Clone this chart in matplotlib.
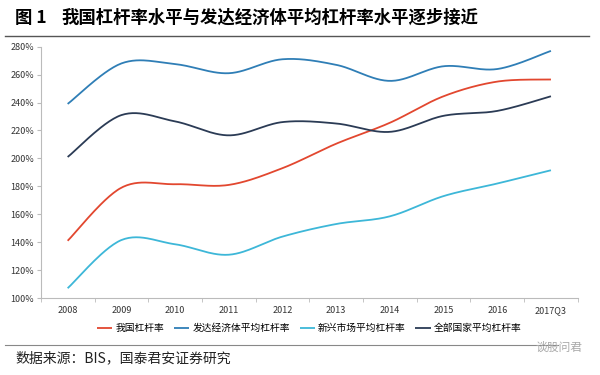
import numpy as np
import matplotlib.pyplot as plt
from matplotlib.ticker import FixedLocator

plt.rcParams['font.family'] = ['Noto Sans CJK SC', 'DejaVu Sans']

years = ['2008', '2009', '2010', '2011', '2012', '2013', '2014', '2015', '2016', '2017Q3']
china = [141, 179, 181.5, 181, 193, 210.5, 225.5, 244.5, 255, 256.5]
developed = [239, 268, 267.5, 261, 271, 267, 255.5, 266, 264, 277]
emerging = [107, 141.5, 138.5, 131, 144, 153, 158.5, 173, 182, 191.5]
all_countries = [201, 231, 226.5, 216.5, 226, 225, 219, 230.5, 234, 244.5]

names = ['我国杠杆率', '发达经济体平均杠杆率', '新兴市场平均杠杆率', '全部国家平均杠杆率']
colors = ['#E2472F', '#2F7EB6', '#3DB7D8', '#2B3B55']
series = [china, developed, emerging, all_countries]


def smooth(xs, ys, n=30):
    # Excel-style smoothed line: Catmull-Rom segments drawn as cubic Beziers
    xs = np.asarray(xs, float)
    ys = np.asarray(ys, float)
    px, py = [], []
    for i in range(len(xs) - 1):
        i0, i3 = max(i - 1, 0), min(i + 2, len(xs) - 1)
        p0 = np.array([xs[i], ys[i]])
        p3 = np.array([xs[i + 1], ys[i + 1]])
        c1 = p0 + (p3 - np.array([xs[i0], ys[i0]])) / 6
        c2 = p3 - (np.array([xs[i3], ys[i3]]) - p0) / 6
        t = np.linspace(0, 1, n)[:, None]
        pts = ((1 - t) ** 3) * p0 + 3 * ((1 - t) ** 2) * t * c1 + 3 * (1 - t) * t ** 2 * c2 + t ** 3 * p3
        px.extend(pts[:, 0])
        py.extend(pts[:, 1])
    return px, py


fig = plt.figure(figsize=(6, 3.75), dpi=100)
ax = fig.add_axes([0.068, 0.2053, 0.895, 0.6702])

x = np.arange(len(years))
for vals, name, c in zip(series, names, colors):
    sx, sy = smooth(x, vals)
    ax.plot(sx, sy, color=c, lw=1.3, label=name, solid_capstyle='butt')

ax.set_xlim(-0.5, len(years) - 0.5)
ax.set_ylim(100, 280)
ax.set_yticks(np.arange(100, 281, 20))
ax.set_yticklabels([f'{v}%' for v in range(100, 281, 20)])
ax.set_xticks(x)
ax.set_xticklabels(years)
ax.xaxis.set_minor_locator(FixedLocator(np.arange(-0.5, len(years), 1)))
ax.tick_params(axis='x', which='major', length=0, labelsize=6.5, colors='#333333', pad=6)
ax.tick_params(axis='x', which='minor', length=3, color='#BBBBBB')
ax.tick_params(axis='y', length=3, color='#BBBBBB', labelsize=6.5, labelcolor='#333333', pad=2)
for s in ['top', 'right']:
    ax.spines[s].set_visible(False)
for s in ['left', 'bottom']:
    ax.spines[s].set_color('#BBBBBB')
    ax.spines[s].set_linewidth(0.8)

ax.legend(loc='center', bbox_to_anchor=(0.5, -0.12), ncol=4, frameon=False,
          fontsize=7, handlelength=1.6, handletextpad=0.3, columnspacing=1.0)

# title and source
fig.text(0.025, 0.952, '图 1', fontsize=12.5, fontweight='bold', va='center')
fig.text(0.103, 0.952, '我国杠杆率水平与发达经济体平均杠杆率水平逐步接近', fontsize=12.5,
         fontweight='bold', va='center')
fig.add_artist(plt.Line2D([0.008, 0.982], [0.905, 0.905], color='#555555', lw=1.0))
fig.add_artist(plt.Line2D([0.008, 0.93], [0.08, 0.08], color='#888888', lw=0.8))
fig.text(0.025, 0.045, '数据来源：BIS，国泰君安证券研究', fontsize=10, va='center', color='#222222')
fig.text(0.97, 0.075, '谈股问君', fontsize=8.5, va='center', ha='right', color='#AAAAAA')

fig.savefig('out.png', dpi=100)
